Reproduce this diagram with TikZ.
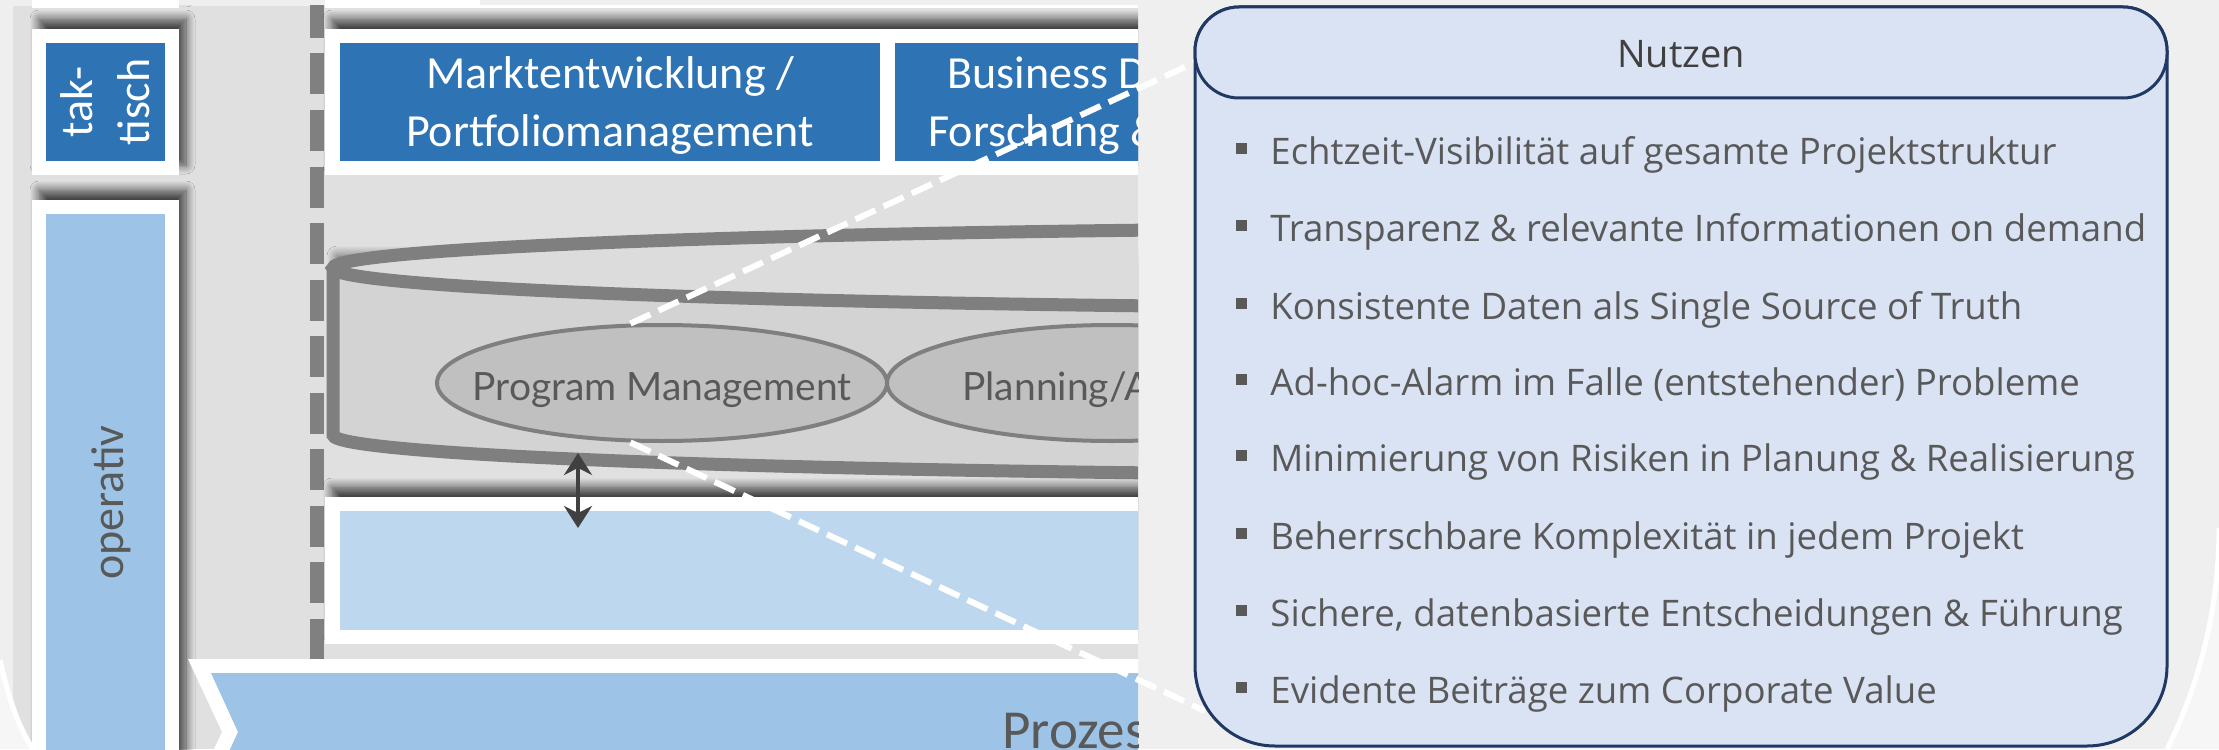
\documentclass[tikz,border=0pt]{standalone}
\usepackage{fontspec}
\setmainfont{Carlito}
\newfontfamily\latofont{Lato}
\newfontfamily\opensansfont{Open Sans}
\usetikzlibrary{shapes.geometric,shadows.blur,arrows.meta}

\definecolor{BgGray}{HTML}{EFEFEF}
\definecolor{RimGray}{HTML}{F6F6F6}
\definecolor{PanelGray}{HTML}{E0E0E0}
\definecolor{TacBlue}{HTML}{2E74B5}
\definecolor{OpBlue}{HTML}{9DC3E6}
\definecolor{PaleBlue}{HTML}{BDD7EE}
\definecolor{DashGray}{HTML}{808080}
\definecolor{CylLine}{HTML}{7F7F7F}
\definecolor{CylBody}{HTML}{D3D3D3}
\definecolor{CylTop}{HTML}{DCDCDC}
\definecolor{EllFill}{HTML}{C0C0C0}
\definecolor{TextGray}{HTML}{595959}
\definecolor{ArrowGray}{HTML}{404040}
\definecolor{LensFill}{HTML}{DAE3F3}
\definecolor{LensLine}{HTML}{203864}

\newcommand{\lensbullet}{\raisebox{5pt}{\rule{5.5pt}{5.5pt}}\hspace{11.5pt}}

\tikzset{
  whitebox/.style={fill=white, blur shadow={shadow xshift=3.5pt, shadow yshift=5pt, shadow opacity=70, shadow blur radius=4.5pt, shadow blur steps=10}},
  boxtext/.style={text=white, inner sep=0pt, font=\fontsize{23}{28.5}\selectfont},
  sidetext/.style={inner sep=0pt, rotate=90, font=\fontsize{23}{28.5}\selectfont},
  modell/.style={ellipse, draw=CylLine, line width=2pt, fill=EllFill, minimum width=225pt, minimum height=58pt, inner sep=0pt},
  modtext/.style={text=TextGray, inner sep=0pt, font=\latofont\fontsize{19.5}{23}\selectfont},
  zoomline/.style={white, line width=3pt, dash pattern=on 11pt off 4.5pt},
  lenstext/.style={text=TextGray, inner sep=0pt, anchor=base west, font=\opensansfont\fontsize{18.3}{22}\selectfont},
}

\begin{document}
\begin{tikzpicture}[x=0.5pt,y=0.5pt,yscale=-1,xscale=1]
  \useasboundingbox (0,0) rectangle (2219,749);
  \fill[BgGray] (0,0) rectangle (2219,749);

  % left part of the slide, cut off at the lens
  \begin{scope}
    \clip (13,6) rectangle (1138,749);
    \fill[PanelGray] (13,6) rectangle (1138,749);

    % boxes of the row above
    \fill[whitebox] (32,-60) rectangle (179,8);
    \fill[whitebox] (325,-60) rectangle (1160,8);

    % level labels on the left
    \fill[whitebox] (32,29) rectangle (179,175);
    \fill[TacBlue] (46,43) rectangle (165,161);
    \node[sidetext, text=white, align=center] (taktisch) at (105.5,102) {tak-\\tisch};

    \fill[whitebox] (32,200) rectangle (179,780);
    \fill[OpBlue] (46,214) rectangle (165,780);
    \node[sidetext, text=TextGray, anchor=base] (operativ) at (123,502.5) {operativ};

    % dashed separator
    \draw[DashGray, line width=7pt, dash pattern=on 20.5pt off 7.75pt] (317,-3) -- (317,659);

    % tactical row
    \fill[whitebox] (325,29) rectangle (1160,175);
    \fill[TacBlue] (340,43) rectangle (880,161);
    \fill[TacBlue] (895,43) rectangle (1160,161);
    \node[boxtext, anchor=base] (markt1) at (610,89) {Marktentwicklung /};
    \node[boxtext, anchor=base] (markt2) at (610,147) {Portfoliomanagement};
    \node[boxtext, anchor=base west] (busdev1) at (947,89) {Business D};
    \node[boxtext, anchor=base west] (busdev2) at (928,147) {Forschung \&};

    % data cylinder
    \fill[CylBody, blur shadow={shadow xshift=2pt, shadow yshift=6pt, shadow opacity=60, shadow blur radius=5pt, shadow blur steps=10}]
      (333,268) -- (333,435) arc[start angle=180, end angle=0, x radius=1200, y radius=40] -- (2733,268) -- cycle;
    \draw[CylLine, line width=6.5pt] (333,268) -- (333,435) arc[start angle=180, end angle=0, x radius=1200, y radius=40];
    \draw[CylLine, fill=CylTop, line width=6.5pt] (1533,268) ellipse[x radius=1200, y radius=40];

    \node[modell] (pm) at (662,383) {};
    \node[modell] (plan) at (1112,383) {};
    \node[modtext, anchor=base] (pmtext) at (662,400) {Program Management};
    \node[modtext, anchor=base west] (plantext) at (962,400) {Planning/A};

    % operative box
    \fill[whitebox] (325,497) rectangle (1160,644);
    \fill[PaleBlue] (340,511) rectangle (1160,630);
    \coordinate (linktop) at (578,453);
    \coordinate (linkbot) at (578,528);
    \draw[ArrowGray, line width=2pt, {Stealth[length=11pt,width=14pt]}-{Stealth[length=11pt,width=14pt]}] (linktop) -- (linkbot);

    % process chevron
    \fill[white] (188,659) -- (1160,659) -- (1160,805) -- (188,805) -- (222,732) -- cycle;
    \fill[OpBlue] (211,673) -- (1160,673) -- (1160,791) -- (211,791) -- (238,732) -- cycle;
    \node[text=TextGray, inner sep=0pt, anchor=base west, font=\fontsize{27.5}{30}\selectfont] (prozess) at (1002,748) {Prozes};
  \end{scope}

  % tops of the boxes above, seen over the edge
  \fill[white] (32,0) rectangle (179,8);
  \fill[white] (325,0) rectangle (480,8);

  % rim of the slide in the lower corners
  \fill[RimGray] (0,660) .. controls (9,700) and (19,728) .. (33,749) -- (0,749) -- cycle;
  \draw[white, line width=2.5pt] (0,660) .. controls (9,700) and (19,728) .. (33,749);
  \fill[RimGray] (2219,528) arc[start angle=0, end angle=26.4, radius=497] -- (2219,749) -- cycle;
  \draw[white, line width=2.5pt] (2219,528) arc[start angle=0, end angle=26.4, radius=497];

  % lens lines
  \coordinate (lenstop) at (1200,60);
  \coordinate (lensbot) at (1205,711);
  \draw[zoomline] (pm.118) -- (lenstop);
  \draw[zoomline] (pm.-118) -- (lensbot);

  % lens box
  \draw[LensLine, line width=1.5pt, fill=LensFill] (1195,400) [rounded corners=40pt] -- (1195,746) -- (2167,746) -- (2167,400)
    [rounded corners=22pt] -- (2167,7) -- (1195,7) -- cycle;
  \draw[LensLine, line width=1.5pt, fill=LensFill, rounded corners=22pt] (1195,7) rectangle (2167,98);
  \node[text=ArrowGray, inner sep=0pt, anchor=base, font=\opensansfont\fontsize{19}{22}\selectfont] (nutzen) at (1681,68) {Nutzen};

  \node[lenstext] (item1) at (1236,164) {\lensbullet Echtzeit-Visibilität auf gesamte Projektstruktur};
  \node[lenstext] (item2) at (1236,241) {\lensbullet Transparenz \& relevante Informationen on demand};
  \node[lenstext] (item3) at (1236,319) {\lensbullet Konsistente Daten als Single Source of Truth};
  \node[lenstext] (item4) at (1236,395) {\lensbullet Ad-hoc-Alarm im Falle (entstehender) Probleme};
  \node[lenstext] (item5) at (1236,471) {\lensbullet Minimierung von Risiken in Planung \& Realisierung};
  \node[lenstext] (item6) at (1236,549) {\lensbullet Beherrschbare Komplexität in jedem Projekt};
  \node[lenstext] (item7) at (1236,626) {\lensbullet Sichere, datenbasierte Entscheidungen \& Führung};
  \node[lenstext] (item8) at (1236,703) {\lensbullet Evidente Beiträge zum Corporate Value};
\end{tikzpicture}
\end{document}
